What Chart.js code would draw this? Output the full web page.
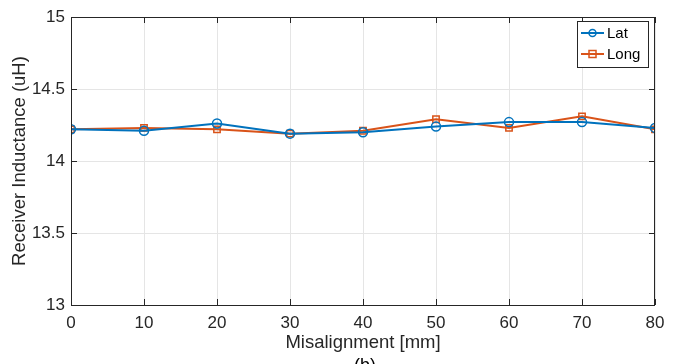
<!DOCTYPE html>
<html>
<head>
<meta charset="utf-8">
<script src="https://cdn.jsdelivr.net/npm/chart.js@4.4.0/dist/chart.umd.min.js"></script>
<style>
  html, body { margin: 0; padding: 0; background: #fff; }
  #wrap { width: 678px; height: 364px; position: relative; }
</style>
</head>
<body>
<div id="wrap"><canvas id="chart"></canvas></div>
<script>
// Misalignment values (mm) and measured receiver inductance (uH)
const misalignment = [0, 10, 20, 30, 40, 50, 60, 70, 80];
const latValues = [14.22, 14.21, 14.26, 14.19, 14.20, 14.24, 14.27, 14.27, 14.23];
const longValues = [14.22, 14.23, 14.22, 14.19, 14.21, 14.29, 14.23, 14.31, 14.22];
const yTicks = [13, 13.5, 14, 14.5, 15];

const BLUE = '#0072BD';
const ORANGE = '#D95319';
const FONT = "'Liberation Sans', Arial, sans-serif";

// box round the axes, inner tick marks, legend and the "(b)" caption
const matlabLook = {
  id: 'matlabLook',
  afterDraw(chart) {
    const { ctx, chartArea: a, scales } = chart;
    ctx.save();
    ctx.strokeStyle = '#262626';
    ctx.lineWidth = 1;
    ctx.strokeRect(a.left + 0.5, a.top + 0.5, a.right - a.left - 1, a.bottom - a.top);

    // tick marks pointing inwards
    ctx.beginPath();
    misalignment.forEach(v => {
      const x = Math.round(scales.x.getPixelForValue(v)) + 0.5;
      ctx.moveTo(x, a.bottom); ctx.lineTo(x, a.bottom - 6);
      ctx.moveTo(x, a.top); ctx.lineTo(x, a.top + 6);
    });
    yTicks.forEach(v => {
      const y = Math.round(scales.y.getPixelForValue(v)) + 0.5;
      ctx.moveTo(a.left, y); ctx.lineTo(a.left + 6, y);
      ctx.moveTo(a.right, y); ctx.lineTo(a.right - 6, y);
    });
    ctx.stroke();

    // legend
    const lx = 577, ly = 21, lw = 71, lh = 46;
    ctx.fillStyle = '#fff';
    ctx.fillRect(lx, ly, lw, lh);
    ctx.strokeStyle = '#262626';
    ctx.strokeRect(lx + 0.5, ly + 0.5, lw, lh);
    chart.data.datasets.forEach((ds, i) => {
      const cy = ly + 12 + i * 21;
      ctx.strokeStyle = ds.borderColor;
      ctx.lineWidth = 2;
      ctx.beginPath();
      ctx.moveTo(lx + 4, cy); ctx.lineTo(lx + 27, cy);
      ctx.stroke();
      ctx.lineWidth = 1.5;
      ctx.beginPath();
      if (ds.pointStyle === 'rect') {
        ctx.rect(lx + 12, cy - 3.5, 7, 7);
      } else {
        ctx.arc(lx + 15.5, cy, 3.5, 0, Math.PI * 2);
      }
      ctx.stroke();
      ctx.fillStyle = '#000';
      ctx.font = '15px ' + FONT;
      ctx.textBaseline = 'middle';
      ctx.textAlign = 'left';
      ctx.fillText(ds.label, lx + 30, cy + 1);
    });

    ctx.fillStyle = '#000';
    ctx.font = '18px ' + FONT;
    ctx.textAlign = 'center';
    ctx.textBaseline = 'alphabetic';
    ctx.fillText('(b)', 365, 371);
    ctx.restore();
  }
};

new Chart(document.getElementById('chart'), {
  type: 'line',
  data: {
    datasets: [
      {
        label: 'Lat',
        data: misalignment.map((x, i) => ({ x, y: latValues[i] })),
        borderColor: BLUE,
        backgroundColor: 'rgba(0,0,0,0)',
        borderWidth: 2,
        pointStyle: 'circle',
        pointRadius: 4.5,
        pointBorderWidth: 1.5,
        tension: 0
      },
      {
        label: 'Long',
        data: misalignment.map((x, i) => ({ x, y: longValues[i] })),
        borderColor: ORANGE,
        backgroundColor: 'rgba(0,0,0,0)',
        borderWidth: 2,
        pointStyle: 'rect',
        pointRadius: 4.5,
        pointBorderWidth: 1.5,
        tension: 0
      }
    ]
  },
  options: {
    responsive: true,
    maintainAspectRatio: false,
    animation: false,
    layout: { padding: { top: 17, right: 23, left: 9, bottom: 10 } },
    plugins: {
      legend: { display: false },
      tooltip: { enabled: false }
    },
    scales: {
      x: {
        type: 'linear',
        min: 0,
        max: 80,
        afterBuildTicks: s => { s.ticks = misalignment.map(v => ({ value: v })); },
        afterFit: s => { s.height = 49; },
        grid: { color: '#e5e5e5', drawTicks: false },
        border: { display: false },
        ticks: { color: '#262626', font: { family: FONT, size: 17 }, padding: 8, maxRotation: 0 },
        title: {
          display: true,
          text: 'Misalignment [mm]',
          color: '#262626',
          font: { family: FONT, size: 18.5 },
          padding: { top: 0, bottom: 0 }
        }
      },
      y: {
        min: 13,
        max: 15,
        afterBuildTicks: s => { s.ticks = yTicks.map(v => ({ value: v })); },
        afterFit: s => { s.width = 62; },
        grid: { color: '#e5e5e5', drawTicks: false },
        border: { display: false },
        ticks: {
          color: '#262626',
          font: { family: FONT, size: 17 },
          padding: 6,
          callback: v => String(v)
        },
        title: {
          display: true,
          text: 'Receiver Inductance (uH)',
          color: '#262626',
          font: { family: FONT, size: 18.5 },
          padding: { top: 0, bottom: 2 }
        }
      }
    }
  },
  plugins: [matlabLook]
});
</script>
</body>
</html>
